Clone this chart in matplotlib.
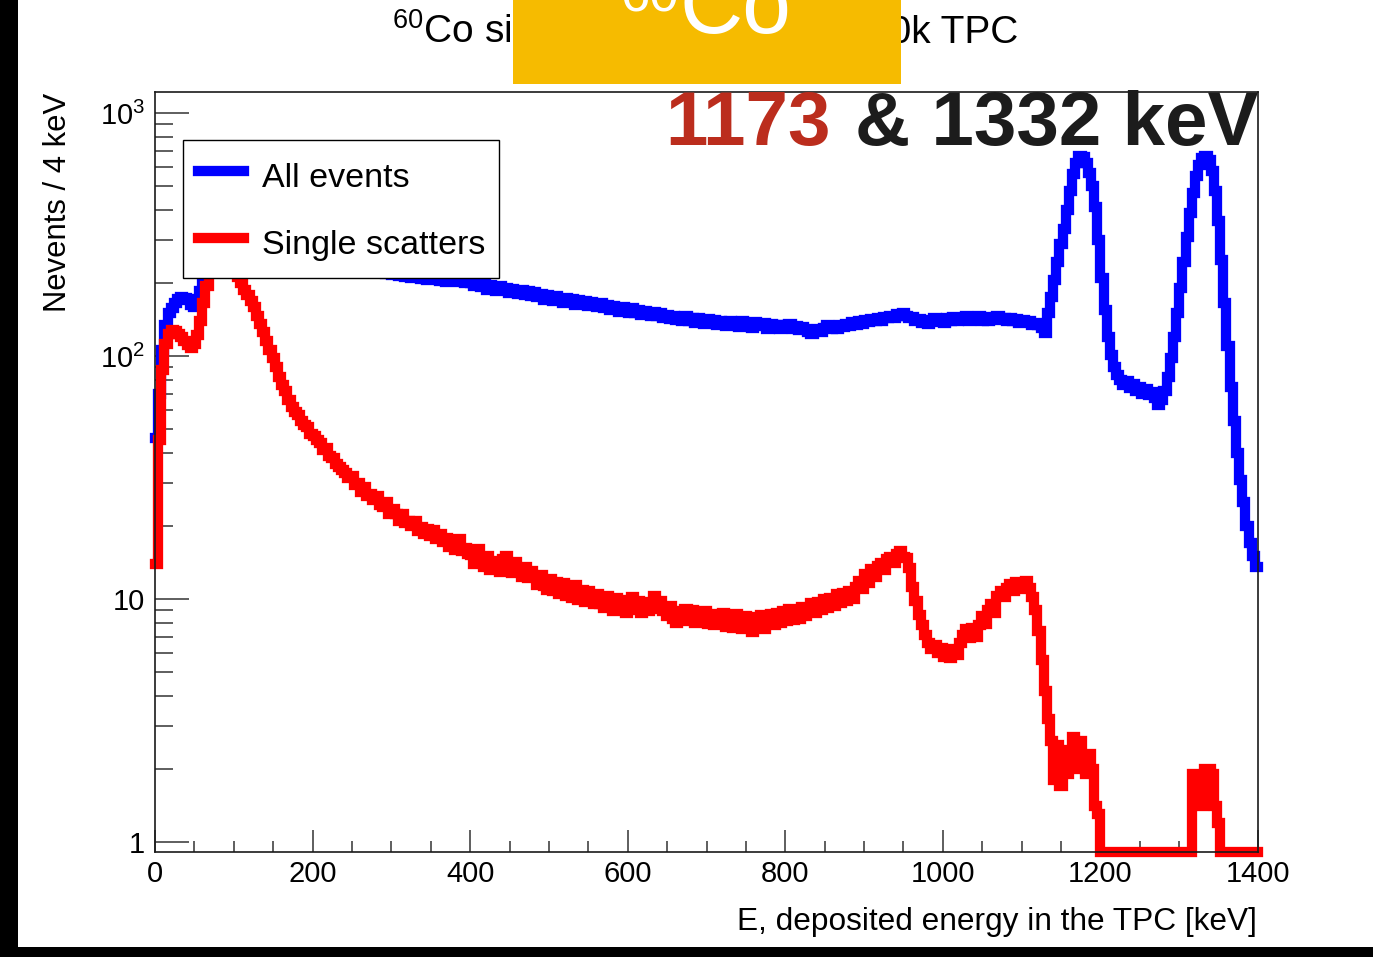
import numpy as np
import matplotlib.pyplot as plt
from matplotlib.patches import Rectangle
from matplotlib.ticker import MultipleLocator, LogLocator, NullFormatter

plt.rcParams['font.family'] = 'Liberation Sans'
plt.rcParams['mathtext.fontset'] = 'custom'
plt.rcParams['mathtext.rm'] = 'Liberation Sans'
plt.rcParams['mathtext.it'] = 'Liberation Sans:italic'
plt.rcParams['mathtext.bf'] = 'Liberation Sans:bold'

# 4 keV bins from 0 to 1400 keV
bin_width = 4
e_min, e_max = 0, 1400

all_events = [
    46, 70, 106, 134, 150, 158, 166, 172, 175, 174, 170, 163, 160, 172, 186, 205, 228, 250, 272, 290,
    305, 316, 322, 326, 327, 325, 322, 318, 314, 310, 306, 303, 299, 296, 292, 290, 286, 284, 280, 278,
    276, 273, 271, 268, 266, 265, 262, 260, 258, 257, 254, 252, 251, 248, 247, 245, 243, 242, 240, 238,
    237, 236, 234, 232, 231, 229, 228, 227, 225, 224, 222, 221, 220, 219, 217, 216, 215, 214, 213, 212,
    211, 210, 209, 209, 208, 207, 206, 206, 205, 205, 204, 204, 203, 203, 203, 202, 202, 202, 201, 202,
    200, 194, 203, 192, 199, 188, 196, 190, 185, 194, 187, 191, 182, 189, 184, 180, 188, 179, 185, 177,
    183, 175, 180, 171, 178, 174, 169, 177, 170, 166, 174, 168, 172, 163, 170, 165, 168, 161, 167, 164,
    160, 166, 158, 163, 155, 161, 157, 152, 160, 154, 150, 158, 151, 155, 148, 153, 150, 146, 152, 147,
    150, 144, 148, 142, 147, 141, 145, 139, 146, 140, 143, 137, 144, 139, 136, 142, 138, 141, 135, 140,
    137, 133, 140, 135, 138, 132, 139, 134, 136, 131, 138, 133, 135, 137, 130, 136, 132, 135, 130, 134,
    131, 136, 130, 133, 128, 132, 129, 126, 124, 127, 130, 126, 131, 134, 129, 133, 130, 135, 132, 136,
    133, 138, 135, 139, 136, 141, 138, 142, 139, 144, 140, 145, 143, 147, 144, 149, 146, 151, 147, 143,
    145, 139, 142, 137, 141, 136, 140, 143, 138, 142, 137, 144, 140, 145, 139, 143, 141, 146, 140, 144,
    141, 146, 140, 144, 139, 145, 142, 147, 141, 144, 139, 143, 140, 142, 137, 141, 138, 140, 135, 137,
    134, 131, 125, 150, 175, 205, 245, 290, 335, 400, 480, 560, 625, 670, 660, 625, 570, 500, 410, 300,
    210, 155, 120, 101, 90, 84, 80, 76, 79, 74, 77, 72, 75, 70, 73, 69, 71, 67, 63, 66,
    72, 82, 98, 120, 150, 190, 245, 310, 390, 470, 550, 615, 655, 665, 640, 580, 480, 360, 250, 165,
    110, 75, 54, 40, 31, 25, 20, 17, 15, 13.5,
]

single_scatters = [
    14, 45, 88, 112, 124, 128, 127, 124, 120, 116, 111, 108, 112, 122, 140, 165, 195, 225, 245, 255,
    262, 265, 262, 255, 245, 232, 212, 200, 188, 178, 168, 160, 146, 136, 126, 116, 106, 98, 90, 82,
    76, 72, 66, 62, 59, 57, 54, 52, 51, 48, 47, 45, 44, 41, 42, 39, 38, 36, 35, 34,
    33, 31.5, 32, 29.5, 30, 27.5, 29, 26.5, 27, 25.5, 26.5, 24.5, 24, 25, 22.5, 23.5, 22.5, 21, 22.5, 20.5,
    21, 20, 21, 19, 19.8, 18.6, 19.5, 18.2, 19.2, 17.6, 18.5, 17.2, 17.8, 16.4, 17.4, 15.9, 17.6, 15.7, 16.2, 15.4,
    15.2, 14.0, 16.0, 14.3, 13.6, 15.0, 13.2, 14.4, 13.8, 12.9, 14.6, 15.1, 13.4, 12.8, 14.2, 13.1, 12.3, 13.5, 12.2, 13.0,
    12.5, 11.4, 12.6, 11.3, 10.9, 12.1, 10.8, 11.8, 10.5, 11.6, 10.3, 11.2, 10.1, 11.4, 9.9, 10.9, 9.7, 10.8, 10.2, 9.5,
    10.5, 9.5, 9.2, 10.3, 9.4, 8.9, 10.1, 9.1, 9.9, 8.8, 9.7, 10.2, 9.0, 9.8, 8.8, 9.6, 8.9, 9.7, 10.3, 9.1,
    9.8, 8.9, 8.5, 9.4, 8.3, 8.0, 8.9, 8.1, 9.1, 8.2, 9.0, 8.0, 8.8, 8.2, 8.9, 7.9, 8.7, 7.8, 8.6, 7.9,
    8.8, 7.7, 8.5, 7.6, 8.7, 7.9, 7.5, 8.5, 7.8, 7.3, 8.4, 7.7, 8.6, 7.5, 8.4, 8.7, 7.8, 8.8, 8.0, 8.9,
    8.1, 9.1, 8.2, 9.0, 8.3, 9.3, 8.5, 9.2, 9.6, 8.8, 9.7, 9.0, 10.0, 9.2, 10.1, 9.4, 10.5, 9.6, 10.6, 9.8,
    10.8, 10.0, 11.2, 11.9, 11.0, 12.7, 11.7, 13.3, 12.3, 13.7, 14.1, 13.2, 14.6, 14.9, 14.1, 15.3, 15.8, 14.9, 14.8, 13.4,
    11.2, 9.8, 8.6, 7.8, 7.1, 6.6, 6.2, 6.5, 6.0, 6.3, 5.8, 6.1, 5.7, 6.2, 5.9, 6.6, 7.1, 7.5, 6.9, 7.6,
    7.0, 7.8, 8.5, 7.9, 9.0, 9.5, 8.8, 10.3, 10.8, 10.2, 11.1, 11.5, 10.8, 11.8, 11.2, 11.0, 11.9, 11.1, 10.2, 9.0,
    7.4, 5.6, 4.2, 3.2, 2.6, 1.8, 2.5, 1.7, 2.2, 1.9, 2.4, 2.7, 2.0, 2.6, 2.2, 1.9, 2.3, 2.0, 1.4, 1.3,
    0, 0, 0, 0, 0, 0, 0, 0, 0, 0, 0, 0, 0, 0, 0, 0, 0, 0, 0, 0,
    0, 0, 0, 0, 0, 0, 0, 0, 0, 1.9, 1.9, 1.8, 1.4, 2.0, 2.0, 1.9, 1.4, 1.2, 0, 0,
    0, 0, 0, 0, 0, 0, 0, 0, 0, 0,
]

x_ticks = [0, 200, 400, 600, 800, 1000, 1200, 1400]
x_tick_labels = ['0', '200', '400', '600', '800', '1000', '1200', '1400']
y_ticks = [1, 10, 100, 1000]
y_tick_labels = ['1', '10', '$10^{2}$', '$10^{3}$']

series_labels = ['All events', 'Single scatters']
series_colors = ['#0000ff', '#ff0000']

W, H = 1373, 957
fig = plt.figure(figsize=(W / 100, H / 100), dpi=100)
ax = fig.add_axes([155 / W, 105 / H, 1103 / W, 760 / H])

ymin, ymax = 0.909, 1224
edges = np.arange(e_min, e_max + bin_width, bin_width)

# empty bins sit on the bottom of the frame, as in ROOT
for vals, lab, col in zip([all_events, single_scatters], series_labels, series_colors):
    v = np.maximum(np.asarray(vals, dtype=float), ymin)
    ax.plot(edges, np.r_[v, v[-1]], drawstyle='steps-post', color=col, lw=7.4,
            solid_joinstyle='miter', solid_capstyle='projecting', clip_on=False, label=lab)

ax.set_xlim(e_min, e_max)
ax.set_yscale('log')
ax.set_ylim(ymin, ymax)
ax.set_xticks(x_ticks, x_tick_labels)
ax.set_yticks(y_ticks, y_tick_labels)
ax.xaxis.set_minor_locator(MultipleLocator(50))
ax.yaxis.set_minor_locator(LogLocator(base=10, subs=np.arange(2, 10)))
ax.yaxis.set_minor_formatter(NullFormatter())

for sp in ax.spines.values():
    sp.set_linewidth(1.2)
    sp.set_color('#1a1a1a')

ax.tick_params(which='both', direction='in', top=False, right=False, color='#333333',
               width=1.1, labelsize=21)
ax.tick_params(axis='y', which='major', length=24.5, pad=7)
ax.tick_params(axis='y', which='minor', length=13)
ax.tick_params(axis='x', which='major', length=16, pad=6)
ax.tick_params(axis='x', which='minor', length=8)

leg = ax.legend(loc='upper left', bbox_to_anchor=(28 / 1103, 570 / 760, 316 / 1103, 142 / 760),
                mode='expand', fontsize=24.5, handlelength=1.35, handleheight=1.45,
                handletextpad=0.53, labelspacing=0.78, borderpad=0.45, borderaxespad=0,
                fancybox=False, framealpha=1, edgecolor='black')
leg.get_frame().set_linewidth(1.0)

# axis titles
fig.text(58 / W, 1 - 93 / H, 'Nevents / 4 keV', rotation=90, ha='center', va='top', fontsize=22.3)
fig.text(1257 / W, 1 - 930 / H, 'E, deposited energy in the TPC [keV]', ha='right',
         va='baseline', fontsize=22.8)

# plot title
fig.text(392 / W, 1 - 43 / H, '$^{60}$Co simulation in the', fontsize=28, va='baseline')
fig.text(1018 / W, 1 - 43 / H, '10k TPC', fontsize=28, ha='right', va='baseline')

# isotope banner
fig.add_artist(Rectangle((513 / W, 1 - 84 / H), 388 / W, 84 / H, transform=fig.transFigure,
                         facecolor='#f6bb00', edgecolor='none', zorder=4))
fig.text(620 / W, 1 - 11 / H, '60', color='white', fontsize=38, va='baseline', zorder=5)
fig.text(680 / W, 1 - 33 / H, 'Co', color='white', fontsize=63, va='baseline', zorder=5)

# gamma line energies
fig.text(665 / W, 1 - 145 / H, '1173', color='#bb2d1d', fontsize=55, weight='bold',
         va='baseline', zorder=6)
fig.text(855 / W, 1 - 145 / H, '& 1332 keV', color='#1c1c1c', fontsize=55, weight='bold',
         va='baseline', zorder=6)

# dark edges of the slide
fig.add_artist(Rectangle((0, 0), 18 / W, 1, transform=fig.transFigure, facecolor='black',
                         edgecolor='none', zorder=10))
fig.add_artist(Rectangle((0, 0), 1, 10 / H, transform=fig.transFigure, facecolor='black',
                         edgecolor='none', zorder=10))

fig.savefig('out.png', dpi=100)
